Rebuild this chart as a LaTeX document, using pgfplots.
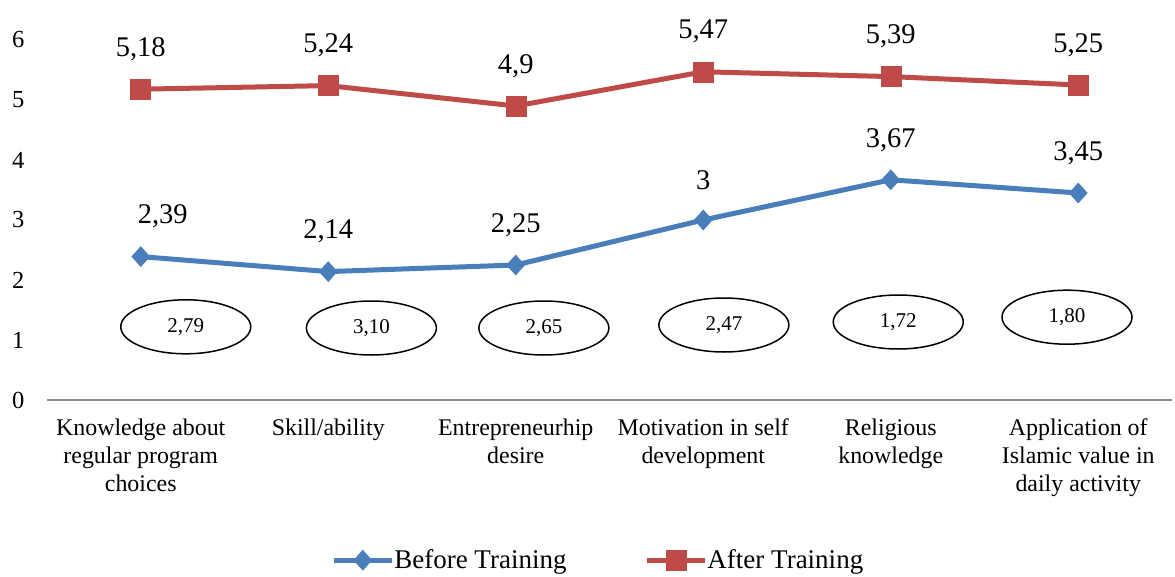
\documentclass[border=0pt]{standalone}
\usepackage{pgfplots}
\pgfplotsset{compat=1.18}
\usepackage{fontspec}
\setmainfont{Liberation Serif}
\usetikzlibrary{shapes.geometric}
\definecolor{cblue}{RGB}{74,126,187}
\definecolor{cred}{RGB}{190,75,72}
\begin{document}
\begin{tikzpicture}
\begin{axis}[
  name=ax,
  scale only axis,
  width=1125bp, height=360bp,
  xmin=-0.5, xmax=5.5,
  ymin=0, ymax=6,
  clip=false,
  axis y line*=left,
  axis x line*=bottom,
  y axis line style={draw=none},
  x axis line style={draw=gray!90, line width=1.5bp, -},
  ytick={0,1,2,3,4,5,6},
  xtick={0,1,2,3,4,5},
  major tick length=0pt,
  xticklabels={Knowledge about\\regular program\\choices, Skill/ability, Entrepreneurhip\\desire, Motivation in self\\development, Religious\\knowledge, Application of\\Islamic value in\\daily activity},
  xticklabel style={align=center, font=\fontsize{23.9bp}{28bp}\selectfont, yshift=-15bp},
  yticklabel style={font=\fontsize{24.5bp}{28bp}\selectfont, xshift=-19bp},
  /pgf/number format/assume math mode=true,
  legend style={draw=none, at={(0.490,-0.445)}, anchor=center, legend columns=2,
    font=\fontsize{27bp}{30bp}\selectfont, /tikz/every even column/.append style={column sep=76bp},
    /tikz/every odd column/.append style={column sep=-2bp}},
  legend image code/.code={\draw[#1, mark repeat=2, mark phase=2] plot coordinates {(0bp,0bp) (29bp,0bp) (58bp,0bp)};},
]
\addplot[color=cblue, line width=5bp, mark=diamond*, mark size=10bp, mark options={fill=cblue, line width=0.5bp, xscale=1.2},
  nodes near coords, point meta=explicit symbolic,
  visualization depends on={value \thisrow{dx} \as \dx},
  every node near coord/.append style={anchor=center, yshift=40bp, xshift=\dx bp, text=black, font=\fontsize{28.5bp}{32bp}\selectfont}]
  table[meta=lab] {
x y lab dx
0 2.39 {2,39} 22
1 2.14 {2,14} 0
2 2.25 {2,25} 0
3 3.00 {3} 0
4 3.67 {3,67} 0
5 3.45 {3,45} 0
};
\addlegendentry{Before Training}
\addplot[color=cred, line width=5bp, mark=square*, mark size=10bp, mark options={fill=cred, line width=0.5bp},
  nodes near coords, point meta=explicit symbolic,
  every node near coord/.append style={anchor=center, yshift=40bp, text=black, font=\fontsize{28.5bp}{32bp}\selectfont}]
  table[meta=lab] {
x y lab
0 5.18 {5,18}
1 5.24 {5,24}
2 4.90 {4,9}
3 5.47 {5,47}
4 5.39 {5,39}
5 5.25 {5,25}
};
\addlegendentry{After Training}
\addplot[draw=none, mark=none, forget plot,
  nodes near coords, point meta=explicit symbolic,
  every node near coord/.append style={anchor=center, ellipse, draw=black, line width=1.5bp,
    minimum width=130bp, minimum height=54bp, inner sep=0pt, text=black,
    font=\fontsize{21bp}{24bp}\selectfont}]
  table[meta=lab] {
x y lab
0.24 1.22 {2,79}
1.23 1.20 {3,10}
2.15 1.20 {2,65}
3.11 1.25 {2,47}
4.04 1.30 {1,72}
4.94 1.38 {1,80}
};
\end{axis}
\path (ax.south west) ++(-47bp,-177bp) rectangle ++(1175bp,577bp);
\end{tikzpicture}
\end{document}
